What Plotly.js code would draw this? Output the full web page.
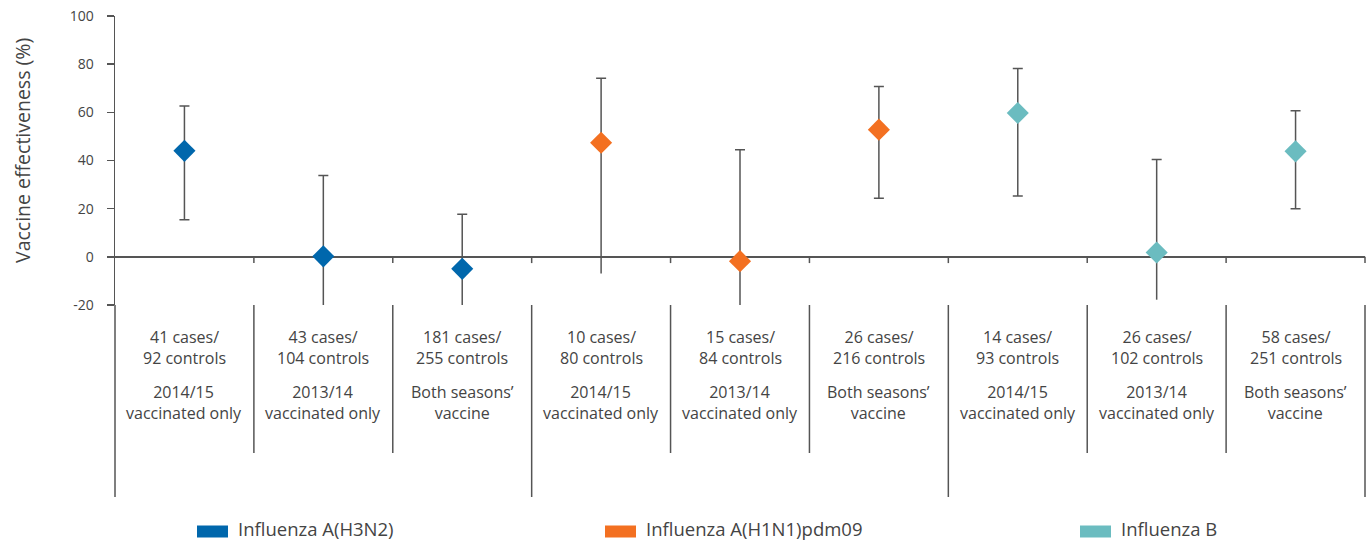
<!DOCTYPE html>
<html>
<head>
<meta charset="utf-8">
<script src="https://cdn.plot.ly/plotly-3.0.1.min.js"></script>
<style>html,body{margin:0;padding:0;background:#fff;}#chart{width:1370px;height:542px;}</style>
</head>
<body>
<div id="chart"></div>
<script>
// ---- data ----
const caseLabels = ["41 cases/<br>92 controls","43 cases/<br>104 controls","181 cases/<br>255 controls",
                    "10 cases/<br>80 controls","15 cases/<br>84 controls","26 cases/<br>216 controls",
                    "14 cases/<br>93 controls","26 cases/<br>102 controls","58 cases/<br>251 controls"];
const vaccineLabels = ["2014/15<br>vaccinated only","2013/14<br>vaccinated only","Both seasons’<br>vaccine",
                       "2014/15<br>vaccinated only","2013/14<br>vaccinated only","Both seasons’<br>vaccine",
                       "2014/15<br>vaccinated only","2013/14<br>vaccinated only","Both seasons’<br>vaccine"];
const seriesNames = ["Influenza A(H3N2)","Influenza A(H1N1)pdm09","Influenza B"];
const seriesOfCategory = [0,0,0,1,1,1,2,2,2];
const ve    = [44.0, 0.2, -5.0, 47.4, -1.8, 52.8, 59.7, 1.8, 43.8];
const upper = [62.6, 33.8, 17.7, 74.2, 44.5, 70.7, 78.2, 40.4, 60.7];
const lower = [15.4, -20, -20, -6.9, -20, 24.3, 25.3, -17.8, 20.0];
const yTicks = [-20, 0, 20, 40, 60, 80, 100];

// ---- style ----
const colors = ["#0067ac", "#f37021", "#6bbcc0"];
const lineCol = "#555555";
const textCol = "#444444";
const font = "Open Sans, sans-serif";

// layout geometry (pixels)
const W = 1370, Hpx = 542;
const mL = 115, mR = 5, mT = 16, mB = 237;
const plotW = W - mL - mR, plotH = Hpx - mT - mB;
const px2x = p => (p - mL) / plotW;
const py2y = p => (Hpx - mB - p) / plotH;

const n = ve.length;
const idx = ve.map((_, i) => i);

const traces = [];
// upper whiskers with caps
traces.push({
  x: idx, y: ve, mode: "markers", type: "scatter", showlegend: false, hoverinfo: "skip",
  marker: {color: "rgba(0,0,0,0)", size: 1},
  error_y: {type: "data", symmetric: false, array: upper.map((u, i) => u - ve[i]),
            arrayminus: ve.map(() => 0), color: lineCol, thickness: 1.5, width: 5}
});
// lower whiskers: capped when lower end above zero, uncapped otherwise
const capIdx = idx.filter(i => lower[i] > 0);
const noCapIdx = idx.filter(i => lower[i] <= 0);
[[capIdx, 5], [noCapIdx, 0]].forEach(([ids, w]) => {
  traces.push({
    x: ids, y: ids.map(i => ve[i]), mode: "markers", type: "scatter", showlegend: false, hoverinfo: "skip",
    marker: {color: "rgba(0,0,0,0)", size: 1},
    error_y: {type: "data", symmetric: false, array: ids.map(() => 0),
              arrayminus: ids.map(i => ve[i] - lower[i]), color: lineCol, thickness: 1.5, width: w}
  });
});
// markers per series
seriesNames.forEach((name, s) => {
  const ids = idx.filter(i => seriesOfCategory[i] === s);
  traces.push({
    x: ids, y: ids.map(i => ve[i]), mode: "markers", type: "scatter", name: name, showlegend: false,
    marker: {symbol: "diamond", size: 17, color: colors[s], line: {width: 0}}
  });
});

const shapes = [];
const annotations = [];
// y-axis line extension below the plot
shapes.push({type: "line", xref: "paper", yref: "paper", x0: 0, x1: 0, y0: 0, y1: py2y(497),
             line: {color: lineCol, width: 1.5}});
// category separators and ticks on zero line
for (let b = 1; b <= n; b++) {
  const xp = b / n;
  const isGroup = (b % 3 === 0);
  shapes.push({type: "line", xref: "paper", yref: "paper", x0: xp, x1: xp, y0: 0,
               y1: py2y(isGroup ? 497 : 453), line: {color: lineCol, width: 1.5}});
  shapes.push({type: "line", xref: "paper", yref: "y", x0: xp, x1: xp, y0: 0, y1: -2.6,
               line: {color: lineCol, width: 1.5}});
}
// category text
for (let i = 0; i < n; i++) {
  annotations.push({x: i, xref: "x", y: py2y(347), yref: "paper", text: caseLabels[i], showarrow: false,
                    xanchor: "center", yanchor: "middle", align: "center",
                    font: {family: font, size: 16, color: textCol}});
  annotations.push({x: i, xref: "x", y: py2y(403), yref: "paper", text: vaccineLabels[i], showarrow: false,
                    xanchor: "center", yanchor: "middle", align: "center",
                    font: {family: font, size: 16, color: textCol}});
}
// y title
annotations.push({x: px2x(22), xref: "paper", y: py2y(151), yref: "paper", text: "Vaccine effectiveness (%)",
                  textangle: -90, showarrow: false, xanchor: "center", yanchor: "middle",
                  font: {family: font, size: 19.5, color: textCol}});
// manual legend
const legSwatchX = [197, 605, 1080];
const legY = 531;
seriesNames.forEach((name, s) => {
  const x0 = legSwatchX[s];
  shapes.push({type: "rect", xref: "paper", yref: "paper", x0: px2x(x0), x1: px2x(x0 + 31),
               y0: py2y(legY + 6.5), y1: py2y(legY - 5.5), fillcolor: colors[s], line: {width: 0}});
  annotations.push({x: px2x(x0 + 39), xref: "paper", y: py2y(legY - 3), yref: "paper", text: name,
                    showarrow: false, xanchor: "left", yanchor: "middle",
                    font: {family: font, size: 18.5, color: textCol}});
});

const layout = {
  width: W, height: Hpx,
  margin: {l: mL, r: mR, t: mT, b: mB, pad: 0},
  paper_bgcolor: "#fff", plot_bgcolor: "#fff",
  showlegend: false,
  xaxis: {range: [-0.5, n - 0.5], visible: false, fixedrange: true},
  yaxis: {range: [-20, 100], tickvals: yTicks, ticktext: yTicks.map(String), showgrid: false,
          showline: true, linecolor: lineCol, linewidth: 1.5, ticks: "outside", ticklen: 7,
          tickwidth: 1.5, tickcolor: lineCol, zeroline: true, zerolinecolor: lineCol, zerolinewidth: 1.5,
          ticklabelstandoff: 10,
          tickfont: {family: font, size: 14, color: textCol}, fixedrange: true},
  shapes: shapes,
  annotations: annotations
};

Plotly.newPlot("chart", traces, layout, {displayModeBar: false, staticPlot: true});
</script>
</body>
</html>
